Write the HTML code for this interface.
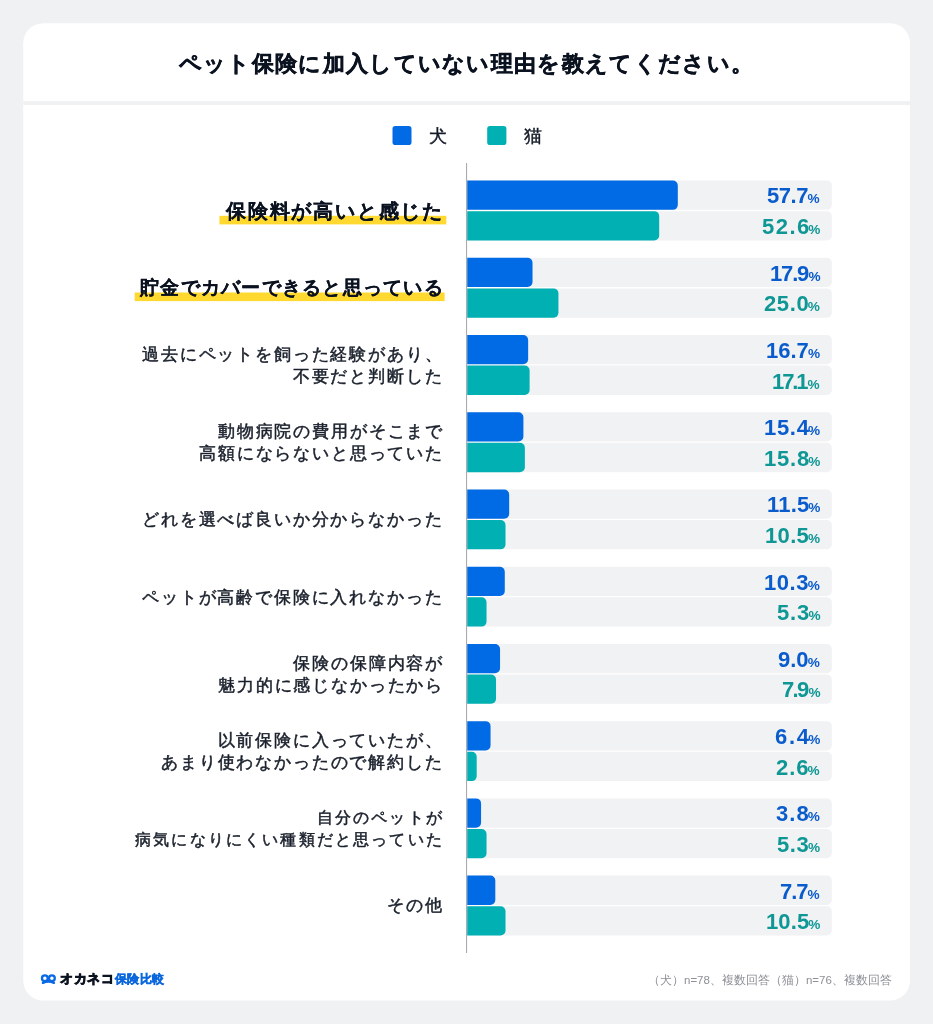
<!DOCTYPE html>
<html lang="ja">
<head>
<meta charset="utf-8">
<title>ペット保険に加入していない理由</title>
<style>
html,body{margin:0;padding:0;}
body{width:933px;height:1024px;background:#f0f1f3;font-family:"Liberation Sans",sans-serif;position:relative;overflow:hidden;color:#141a26;}
.title,.lgt,.val,.lab,.foot,.logo1,.logo2{position:absolute;white-space:nowrap;will-change:transform;}
.title{left:0;top:49px;width:933px;text-align:center;font-size:21.5px;font-weight:700;letter-spacing:1.33px;line-height:30px;color:#0b1220;-webkit-text-stroke:0.5px #0b1220;}
.lgt{top:123px;font-size:18px;line-height:26px;font-weight:500;color:#141a26;-webkit-text-stroke:0.4px #141a26;}
.val{right:113px;height:29.3px;line-height:29.3px;font-weight:700;font-size:22px;text-align:right;margin-top:0.95px;}
.val i{font-style:normal;font-size:13.6px;letter-spacing:0;}
.vd{color:#0a5ccc;}
.vc{color:#0f9795;}
.lab{text-align:right;font-size:17px;line-height:21.8px;font-weight:500;color:#1a202c;-webkit-text-stroke:0.5px #1a202c;}
.lab.hl{font-weight:700;line-height:26px;color:#0b1220;-webkit-text-stroke:0.15px #0b1220;}
.foot{right:41px;top:971px;font-size:11.5px;line-height:18px;color:#8d9096;}
.logo1{left:59.5px;top:970px;font-size:13px;line-height:18px;font-weight:900;color:#0b1220;letter-spacing:0.55px;-webkit-text-stroke:0.8px #0b1220;}
.logo2{left:114.8px;top:970px;font-size:12.4px;line-height:18px;font-weight:700;color:#0a66dc;letter-spacing:0.4px;-webkit-text-stroke:0.45px #0a66dc;}
</style>
</head>
<body>
<svg style="position:absolute;left:0;top:0" width="933" height="1024" viewBox="0 0 933 1024"><rect x="23.25" y="23.15" width="886.75" height="977.45" rx="20" fill="#fff"/><rect x="23.25" y="101.1" width="886.75" height="3.9" fill="#f0f1f3"/><rect x="392.5" y="126" width="19" height="19" rx="2.8" fill="#006be4"/><rect x="487.2" y="126" width="19.2" height="19" rx="2.8" fill="#00b0b3"/><path d="M467.20 180.55H826.80A5 5 0 0 1 831.80 185.55V204.85A5 5 0 0 1 826.80 209.85H467.20Z" fill="#f1f2f4"/><path d="M467.20 211.15H826.80A5 5 0 0 1 831.80 216.15V235.45A5 5 0 0 1 826.80 240.45H467.20Z" fill="#f1f2f4"/><path d="M467.20 180.55H672.81A5 5 0 0 1 677.81 185.55V204.85A5 5 0 0 1 672.81 209.85H467.20Z" fill="#006be4"/><path d="M467.20 211.15H654.19A5 5 0 0 1 659.19 216.15V235.45A5 5 0 0 1 654.19 240.45H467.20Z" fill="#00b0b3"/><rect x="219.4" y="215.8" width="226.9" height="8.6" fill="#ffd92f"/><path d="M467.20 257.78H826.80A5 5 0 0 1 831.80 262.78V282.08A5 5 0 0 1 826.80 287.08H467.20Z" fill="#f1f2f4"/><path d="M467.20 288.38H826.80A5 5 0 0 1 831.80 293.38V312.68A5 5 0 0 1 826.80 317.68H467.20Z" fill="#f1f2f4"/><path d="M467.20 257.78H527.53A5 5 0 0 1 532.53 262.78V282.08A5 5 0 0 1 527.53 287.08H467.20Z" fill="#006be4"/><path d="M467.20 288.38H553.45A5 5 0 0 1 558.45 293.38V312.68A5 5 0 0 1 553.45 317.68H467.20Z" fill="#00b0b3"/><rect x="134.7" y="292.5" width="309.9" height="8.6" fill="#ffd92f"/><path d="M467.20 335.01H826.80A5 5 0 0 1 831.80 340.01V359.31A5 5 0 0 1 826.80 364.31H467.20Z" fill="#f1f2f4"/><path d="M467.20 365.61H826.80A5 5 0 0 1 831.80 370.61V389.91A5 5 0 0 1 826.80 394.91H467.20Z" fill="#f1f2f4"/><path d="M467.20 335.01H523.15A5 5 0 0 1 528.15 340.01V359.31A5 5 0 0 1 523.15 364.31H467.20Z" fill="#006be4"/><path d="M467.20 365.61H524.62A5 5 0 0 1 529.62 370.61V389.91A5 5 0 0 1 524.62 394.91H467.20Z" fill="#00b0b3"/><path d="M467.20 412.24H826.80A5 5 0 0 1 831.80 417.24V436.54A5 5 0 0 1 826.80 441.54H467.20Z" fill="#f1f2f4"/><path d="M467.20 442.84H826.80A5 5 0 0 1 831.80 447.84V467.14A5 5 0 0 1 826.80 472.14H467.20Z" fill="#f1f2f4"/><path d="M467.20 412.24H518.41A5 5 0 0 1 523.41 417.24V436.54A5 5 0 0 1 518.41 441.54H467.20Z" fill="#006be4"/><path d="M467.20 442.84H519.87A5 5 0 0 1 524.87 447.84V467.14A5 5 0 0 1 519.87 472.14H467.20Z" fill="#00b0b3"/><path d="M467.20 489.47H826.80A5 5 0 0 1 831.80 494.47V513.77A5 5 0 0 1 826.80 518.77H467.20Z" fill="#f1f2f4"/><path d="M467.20 520.07H826.80A5 5 0 0 1 831.80 525.07V544.37A5 5 0 0 1 826.80 549.37H467.20Z" fill="#f1f2f4"/><path d="M467.20 489.47H504.18A5 5 0 0 1 509.18 494.47V513.77A5 5 0 0 1 504.18 518.77H467.20Z" fill="#006be4"/><path d="M467.20 520.07H500.52A5 5 0 0 1 505.52 525.07V544.37A5 5 0 0 1 500.52 549.37H467.20Z" fill="#00b0b3"/><path d="M467.20 566.70H826.80A5 5 0 0 1 831.80 571.70V591.00A5 5 0 0 1 826.80 596.00H467.20Z" fill="#f1f2f4"/><path d="M467.20 597.30H826.80A5 5 0 0 1 831.80 602.30V621.60A5 5 0 0 1 826.80 626.60H467.20Z" fill="#f1f2f4"/><path d="M467.20 566.70H499.79A5 5 0 0 1 504.79 571.70V591.00A5 5 0 0 1 499.79 596.00H467.20Z" fill="#006be4"/><path d="M467.20 597.30H481.54A5 5 0 0 1 486.54 602.30V621.60A5 5 0 0 1 481.54 626.60H467.20Z" fill="#00b0b3"/><path d="M467.20 643.93H826.80A5 5 0 0 1 831.80 648.93V668.23A5 5 0 0 1 826.80 673.23H467.20Z" fill="#f1f2f4"/><path d="M467.20 674.53H826.80A5 5 0 0 1 831.80 679.53V698.83A5 5 0 0 1 826.80 703.83H467.20Z" fill="#f1f2f4"/><path d="M467.20 643.93H495.05A5 5 0 0 1 500.05 648.93V668.23A5 5 0 0 1 495.05 673.23H467.20Z" fill="#006be4"/><path d="M467.20 674.53H491.03A5 5 0 0 1 496.03 679.53V698.83A5 5 0 0 1 491.03 703.83H467.20Z" fill="#00b0b3"/><path d="M467.20 721.16H826.80A5 5 0 0 1 831.80 726.16V745.46A5 5 0 0 1 826.80 750.46H467.20Z" fill="#f1f2f4"/><path d="M467.20 751.76H826.80A5 5 0 0 1 831.80 756.76V776.06A5 5 0 0 1 826.80 781.06H467.20Z" fill="#f1f2f4"/><path d="M467.20 721.16H485.56A5 5 0 0 1 490.56 726.16V745.46A5 5 0 0 1 485.56 750.46H467.20Z" fill="#006be4"/><path d="M467.20 751.76H471.94A4.745 4.745 0 0 1 476.69 756.50V776.31A4.745 4.745 0 0 1 471.94 781.06H467.20Z" fill="#00b0b3"/><path d="M467.20 798.39H826.80A5 5 0 0 1 831.80 803.39V822.69A5 5 0 0 1 826.80 827.69H467.20Z" fill="#f1f2f4"/><path d="M467.20 828.99H826.80A5 5 0 0 1 831.80 833.99V853.29A5 5 0 0 1 826.80 858.29H467.20Z" fill="#f1f2f4"/><path d="M467.20 798.39H476.07A5 5 0 0 1 481.07 803.39V822.69A5 5 0 0 1 476.07 827.69H467.20Z" fill="#006be4"/><path d="M467.20 828.99H481.54A5 5 0 0 1 486.54 833.99V853.29A5 5 0 0 1 481.54 858.29H467.20Z" fill="#00b0b3"/><path d="M467.20 875.62H826.80A5 5 0 0 1 831.80 880.62V899.92A5 5 0 0 1 826.80 904.92H467.20Z" fill="#f1f2f4"/><path d="M467.20 906.22H826.80A5 5 0 0 1 831.80 911.22V930.52A5 5 0 0 1 826.80 935.52H467.20Z" fill="#f1f2f4"/><path d="M467.20 875.62H490.31A5 5 0 0 1 495.31 880.62V899.92A5 5 0 0 1 490.31 904.92H467.20Z" fill="#006be4"/><path d="M467.20 906.22H500.52A5 5 0 0 1 505.52 911.22V930.52A5 5 0 0 1 500.52 935.52H467.20Z" fill="#00b0b3"/><rect x="466" y="163" width="1.1" height="790" fill="#a9abb2"/></svg>
<div class="title">ペット保険に加入していない理由を教えてください。</div>
<div class="lgt" style="left:429px">犬</div>
<div class="lgt" style="left:524px">猫</div>

<div class="val vd" style="top:180.55px"><span style="letter-spacing:-0.47px">57.7</span><i style="margin-left:-0.43px">%</i></div><div class="val vc" style="top:211.15px"><span style="letter-spacing:1.47px">52.6</span><i style="margin-left:-2.37px">%</i></div>
<div class="lab hl" id="l0" style="top:198.00px;font-size:20.4px;letter-spacing:1.80px;right:489.20px">保険料が高いと感じた</div>
<div class="val vd" style="top:257.78px"><span style="letter-spacing:-1.17px">17.9</span><i style="margin-left:0.27px">%</i></div><div class="val vc" style="top:288.38px"><span style="letter-spacing:0.63px">25.0</span><i style="margin-left:-1.53px">%</i></div>
<div class="lab hl" id="l1" style="top:275.23px;font-size:18.8px;letter-spacing:1.25px;right:489.75px">貯金でカバーできると思っている</div>
<div class="val vd" style="top:335.01px"><span style="letter-spacing:0.00px">16.7</span><i style="margin-left:-0.90px">%</i></div><div class="val vc" style="top:365.61px"><span style="letter-spacing:-2.10px">17.1</span><i style="margin-left:1.20px">%</i></div>
<div class="lab" id="l2" style="top:343.96px;font-size:17.0px;letter-spacing:1.85px;right:489.15px">過去にペットを飼った経験があり、<br>不要だと判断した</div>
<div class="val vd" style="top:412.24px"><span style="letter-spacing:0.70px">15.4</span><i style="margin-left:-1.60px">%</i></div><div class="val vc" style="top:442.84px"><span style="letter-spacing:0.80px">15.8</span><i style="margin-left:-1.70px">%</i></div>
<div class="lab" id="l3" style="top:421.19px;font-size:17.0px;letter-spacing:1.85px;right:489.15px">動物病院の費用がそこまで<br>高額にならないと思っていた</div>
<div class="val vd" style="top:489.47px"><span style="letter-spacing:0.20px">11.5</span><i style="margin-left:-1.10px">%</i></div><div class="val vc" style="top:520.07px"><span style="letter-spacing:0.33px">10.5</span><i style="margin-left:-1.23px">%</i></div>
<div class="lab" id="l4" style="top:509.32px;font-size:17.0px;letter-spacing:1.85px;right:489.15px">どれを選べば良いか分からなかった</div>
<div class="val vd" style="top:566.70px"><span style="letter-spacing:0.57px">10.3</span><i style="margin-left:-1.47px">%</i></div><div class="val vc" style="top:597.30px"><span style="letter-spacing:0.85px">5.3</span><i style="margin-left:-1.75px">%</i></div>
<div class="lab" id="l5" style="top:586.55px;font-size:17.0px;letter-spacing:1.85px;right:489.15px">ペットが高齢で保険に入れなかった</div>
<div class="val vd" style="top:643.93px"><span style="letter-spacing:0.00px">9.0</span><i style="margin-left:-0.90px">%</i></div><div class="val vc" style="top:674.53px"><span style="letter-spacing:-1.65px">7.9</span><i style="margin-left:0.75px">%</i></div>
<div class="lab" id="l6" style="top:652.88px;font-size:17.0px;letter-spacing:1.85px;right:489.15px">保険の保障内容が<br>魅力的に感じなかったから</div>
<div class="val vd" style="top:721.16px"><span style="letter-spacing:1.75px">6.4</span><i style="margin-left:-2.65px">%</i></div><div class="val vc" style="top:751.76px"><span style="letter-spacing:0.90px">2.6</span><i style="margin-left:-1.80px">%</i></div>
<div class="lab" id="l7" style="top:730.11px;font-size:17.0px;letter-spacing:1.85px;right:489.15px">以前保険に入っていたが、<br>あまり使わなかったので解約した</div>
<div class="val vd" style="top:798.39px"><span style="letter-spacing:1.05px">3.8</span><i style="margin-left:-1.95px">%</i></div><div class="val vc" style="top:828.99px"><span style="letter-spacing:0.60px">5.3</span><i style="margin-left:-1.50px">%</i></div>
<div class="lab" id="l8" style="top:807.34px;font-size:16.45px;letter-spacing:2.17px;right:488.83px">自分のペットが<br>病気になりにくい種類だと思っていた</div>
<div class="val vd" style="top:875.62px"><span style="letter-spacing:-1.05px">7.7</span><i style="margin-left:0.15px">%</i></div><div class="val vc" style="top:906.22px"><span style="letter-spacing:0.13px">10.5</span><i style="margin-left:-1.03px">%</i></div>
<div class="lab" id="l9" style="top:895.47px;font-size:17.0px;letter-spacing:1.85px;right:489.15px">その他</div>
<svg style="position:absolute;left:38px;top:970px" width="22" height="18" viewBox="0 0 22 18">
<g fill="none" stroke="#0a6ae6" stroke-width="2.3" stroke-linecap="round">
<circle cx="6.85" cy="8.3" r="2.9"/><circle cx="13.9" cy="8.3" r="2.9"/>
<path d="M4.9 12.9 Q10.4 10.2 15.9 12.9"/>
</g>
<rect x="9" y="7" width="2.8" height="4.5" fill="#0a6ae6"/>
</svg>
<div class="logo1">オカネコ</div><div class="logo2">保険比較</div>
<div class="foot">（犬）n=78、複数回答（猫）n=76、複数回答</div>
</body>
</html>
